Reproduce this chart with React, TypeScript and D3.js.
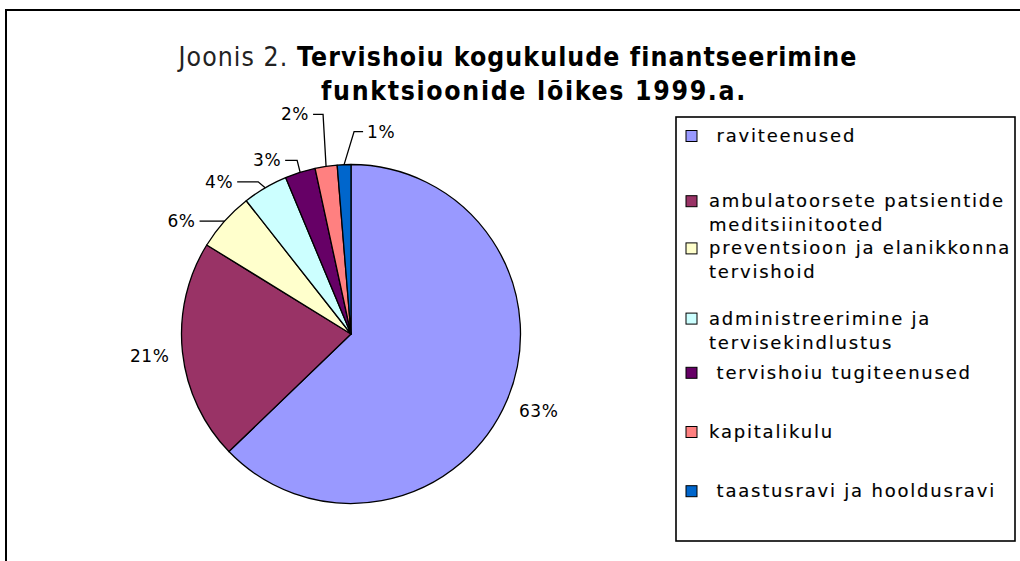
import React from "react";
import * as d3 from "d3";

const categories = [
  " raviteenused",
  "ambulatoorsete patsientide\nmeditsiinitooted",
  "preventsioon ja elanikkonna\ntervishoid",
  "administreerimine ja\ntervisekindlustus",
  " tervishoiu tugiteenused",
  "kapitalikulu",
  " taastusravi ja hooldusravi",
];
const values = [62.8, 21.0, 5.6, 4.3, 2.9, 2.1, 1.3];
const colors = ["#9999FF", "#993366", "#FFFFCC", "#CCFFFF", "#660066", "#FF8080", "#0066CC"];
const titleLine1Regular = "Joonis 2. ";
const titleLine1Bold = "Tervishoiu kogukulude finantseerimine";
const titleLine2Bold = "funktsioonide lõikes 1999.a.";

// label layout: outside labels or leader-line labels (elbow offset, horizontal length, side)
type LabelCfg = { kind: "out"; side: number; dy: number } | { kind: "lead"; ex: number; ey: number; len: number; side: number };
const labelCfg: LabelCfg[] = [
  { kind: "out", side: 1, dy: 5 },
  { kind: "out", side: -1, dy: 2 },
  { kind: "lead", ex: 0, ey: 0, len: 25, side: -1 },
  { kind: "lead", ex: -7, ey: -6, len: 21, side: -1 },
  { kind: "lead", ex: -3, ey: -12, len: 12, side: -1 },
  { kind: "lead", ex: -3, ey: -52, len: 10, side: -1 },
  { kind: "lead", ex: 10, ey: -33, len: 9, side: 1 },
];
const legendShift = [0, 6, -6, 5, 0, 0, 0];

const FONT = "'DejaVu Sans', Verdana, sans-serif";

export default function App() {
  const W = 1020, H = 561;
  const cx = 351, cy = 334, R = 169.5;
  const total = d3.sum(values);
  const pie = d3.pie<number>().sort(null).value((d) => d);
  const arcs = pie(values);
  const arc = d3.arc<d3.PieArcDatum<number>>().innerRadius(0).outerRadius(R);

  const pointAt = (a: number, r: number): [number, number] => [cx + r * Math.sin(a), cy - r * Math.cos(a)];

  const legend = { x: 676, y: 117, w: 339, h: 424 };
  const slot = 59.2;

  return (
    <svg width={W} height={H} style={{ position: "absolute", left: 0, top: 0, background: "#fff" }}>
      <rect x={0} y={0} width={W} height={H} fill="#fff" />
      <rect x={6} y={10} width={W + 50} height={H + 50} fill="none" stroke="#000" strokeWidth={2} />

      <g fontFamily={FONT} fill="#000">
        <g transform="translate(518,66) scale(0.88,1)">
          <text x={0} y={0} textAnchor="middle" fontSize={27} xmlSpace="preserve" style={{ letterSpacing: "1.2px" }}>
            <tspan fill="#222">{titleLine1Regular}</tspan>
            <tspan fontWeight="bold">{titleLine1Bold}</tspan>
          </text>
        </g>
        <g transform="translate(534,100) scale(0.88,1)">
          <text x={0} y={0} textAnchor="middle" fontSize={27} fontWeight="bold" style={{ letterSpacing: "1.9px" }}>
            {titleLine2Bold}
          </text>
        </g>
      </g>

      <g transform={`translate(${cx},${cy})`}>
        {arcs.map((a, i) => (
          <path key={i} d={arc(a) || ""} fill={colors[i]} stroke="#000" strokeWidth={1.3} strokeLinejoin="round" />
        ))}
      </g>

      <g fontFamily={FONT} fontSize={17} fill="#000" style={{ letterSpacing: "0.6px" }}>
        {arcs.map((a, i) => {
          const mid = (a.startAngle + a.endAngle) / 2;
          const label = `${Math.round((a.data / total) * 100)}%`;
          const cfg = labelCfg[i];
          if (cfg.kind === "out") {
            const [px, py] = pointAt(mid, R + 13);
            return (
              <text key={i} x={px} y={py + cfg.dy} dy="0.36em" textAnchor={cfg.side > 0 ? "start" : "end"}>
                {label}
              </text>
            );
          }
          const [ex0, ey0] = pointAt(mid, R);
          const elbow: [number, number] = [ex0 + cfg.ex, ey0 + cfg.ey];
          const endX = elbow[0] + cfg.side * cfg.len;
          const line = d3.line()([[ex0, ey0], elbow, [endX, elbow[1]]]) || "";
          return (
            <g key={i}>
              <path d={line} fill="none" stroke="#000" strokeWidth={1.3} />
              <text x={endX + cfg.side * 4} y={elbow[1]} dy="0.36em" textAnchor={cfg.side > 0 ? "start" : "end"}>
                {label}
              </text>
            </g>
          );
        })}
      </g>

      <rect x={legend.x} y={legend.y} width={legend.w} height={legend.h} fill="#fff" stroke="#000" strokeWidth={1.6} />
      <g fontFamily={FONT} fontSize={18} fill="#000" style={{ letterSpacing: "1.8px" }}>
        {categories.map((c, i) => {
          const yc = legend.y + 19 + i * slot + legendShift[i];
          const lines = c.split("\n");
          return (
            <g key={i}>
              <rect x={686} y={yc - 5.5} width={11} height={11} fill={colors[i]} stroke="#000" strokeWidth={1} />
              {lines.map((ln, j) => (
                <text key={j} x={709} y={yc + 6 + j * 24} xmlSpace="preserve" stroke="#000" strokeWidth={0.15}>
                  {ln}
                </text>
              ))}
            </g>
          );
        })}
      </g>
    </svg>
  );
}
